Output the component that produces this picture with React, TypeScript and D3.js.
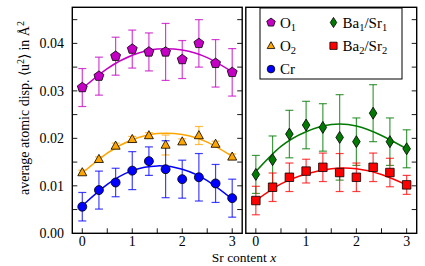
import * as d3 from "d3";

// Sr content x of the ten samples
const srContent = [0, 0.333, 0.667, 1, 1.333, 1.667, 2, 2.333, 2.667, 3];
const fitX = [0, 0.5, 1, 1.5, 2, 2.5, 3];

const o1 = [0.0307, 0.0331, 0.0373, 0.0388, 0.0382, 0.0382, 0.0366, 0.04, 0.0358, 0.0339];
const o1Err = [0.004, 0.004, 0.004, 0.004, 0.004, 0.006, 0.004, 0.005, 0.005, 0.005];
const o1Fit = [0.0305, 0.0347, 0.0375, 0.0388, 0.0386, 0.037, 0.034];

const o2 = [0.0128, 0.0156, 0.0184, 0.0198, 0.0206, 0.0186, 0.0193, 0.0206, 0.0188, 0.0161];
const o2Err = [0.0005, 0.0005, 0.0006, 0.0006, 0.0006, 0.0021, 0.0006, 0.0019, 0.0006, 0.0006];
const o2Fit = [0.0127, 0.0169, 0.0197, 0.021, 0.0208, 0.0192, 0.0162];

const cr = [0.0056, 0.0091, 0.0107, 0.0132, 0.0152, 0.0135, 0.0114, 0.0118, 0.0105, 0.0074];
const crErr = [0.003, 0.004, 0.003, 0.004, 0.003, 0.006, 0.004, 0.005, 0.004, 0.004];
const crFit = [0.0058, 0.0103, 0.0132, 0.0142, 0.0135, 0.0111, 0.0072];

const ba1 = [0.0124, 0.0155, 0.0209, 0.0228, 0.0223, 0.0202, 0.0193, 0.0253, 0.0193, 0.0178];
const ba1Err = [0.004, 0.005, 0.005, 0.005, 0.005, 0.009, 0.005, 0.006, 0.005, 0.004];
const ba1Fit = [0.013, 0.0183, 0.0214, 0.0229, 0.0226, 0.0206, 0.0178];

const ba2 = [0.0069, 0.0097, 0.0118, 0.0131, 0.0139, 0.0128, 0.0118, 0.0139, 0.0128, 0.0102];
const ba2Err = [0.003, 0.003, 0.003, 0.0025, 0.003, 0.004, 0.003, 0.003, 0.003, 0.002];
const ba2Fit = [0.0069, 0.0104, 0.0125, 0.0136, 0.0136, 0.0124, 0.0102];

const yTickLabels = ["0.00", "0.01", "0.02", "0.03", "0.04"];
const xTickLabels = ["0", "1", "2", "3"];

const FONT = "Liberation Serif";

// marker path generators, centred at 0,0
const markerPath = (kind: string, s: number) => {
  if (kind === "pentagon") {
    const r = s * 0.58;
    const pts = d3.range(5).map((k) => {
      const a = -Math.PI / 2 + (k * 2 * Math.PI) / 5;
      return [r * Math.cos(a), r * Math.sin(a)];
    });
    return "M" + pts.map((p) => p.join(",")).join("L") + "Z";
  }
  if (kind === "circle") return d3.symbol(d3.symbolCircle, Math.PI * (s / 2) ** 2)()!;
  if (kind === "triangle") {
    const h = s * 0.9;
    return `M0,${-h * 0.6}L${s / 2},${h * 0.4}L${-s / 2},${h * 0.4}Z`;
  }
  if (kind === "square") return `M${-s / 2},${-s / 2}h${s}v${s}h${-s}Z`;
  // thin diamond
  return `M0,${-s * 0.6}L${s * 0.38},0L0,${s * 0.6}L${-s * 0.38},0Z`;
};

type Series = {
  name: string[];
  vals: number[];
  err: number[];
  fit: number[];
  color: string;
  marker: string;
  size: number;
};

const leftSeries: Series[] = [
  { name: ["O", "1"], vals: o1, err: o1Err, fit: o1Fit, color: "#c400c4", marker: "pentagon", size: 9 },
  { name: ["O", "2"], vals: o2, err: o2Err, fit: o2Fit, color: "#ffa500", marker: "triangle", size: 9 },
  { name: ["Cr"], vals: cr, err: crErr, fit: crFit, color: "#0000ff", marker: "circle", size: 9 },
];
const rightSeries: Series[] = [
  { name: ["Ba", "1", "/Sr", "1"], vals: ba1, err: ba1Err, fit: ba1Fit, color: "#007a00", marker: "diamond", size: 10 },
  { name: ["Ba", "2", "/Sr", "2"], vals: ba2, err: ba2Err, fit: ba2Fit, color: "#ff0000", marker: "square", size: 8.5 },
];

const top = 7.3;
const bottom = 233.3;
const y = d3.scaleLinear().domain([0, 0.0476]).range([bottom, top]);
const yMinor = d3.range(0.005, 0.0476, 0.005);
const xMinor = d3.range(0, 3.01, 0.5);

const Panel = ({ x, series, leftAxis }: { x: d3.ScaleLinear<number, number>; series: Series[]; leftAxis: boolean }) => {
  const [x0, x1] = x.range();
  const line = d3
    .line<number>()
    .x((_d, i) => x(fitX[i]))
    .y((d) => y(d))
    .curve(d3.curveNatural);
  const sides = leftAxis ? [x0, x1] : [x1];
  return (
    <g>
      {xMinor.map((t) => (
        <line key={"xt" + t} x1={x(t)} x2={x(t)} y1={bottom} y2={bottom - 5} stroke="#000" strokeWidth={0.9} />
      ))}
      {sides.map((sx) =>
        yMinor.map((t) => (
          <line
            key={"yt" + sx + t}
            x1={sx}
            x2={sx + (sx === x0 ? 5 : -5)}
            y1={y(t)}
            y2={y(t)}
            stroke="#000"
            strokeWidth={0.9}
          />
        ))
      )}
      {xTickLabels.map((t) => (
        <text key={"xl" + t} x={x(+t)} y={246} textAnchor="middle" style={{ fontFamily: FONT, fontSize: "14px" }}>
          {t}
        </text>
      ))}
      {leftAxis &&
        yTickLabels.map((t) => (
          <text key={"yl" + t} x={64} y={y(+t) + 4.7} textAnchor="end" style={{ fontFamily: FONT, fontSize: "14px" }}>
            {t}
          </text>
        ))}
      {series.map((s) => (
        <g key={"e" + s.color} stroke={s.color} strokeOpacity={0.75} strokeWidth={1.2}>
          {s.vals.map((v, i) => {
            const cx = x(srContent[i]);
            const ya = y(v + s.err[i]);
            const yb = y(v - s.err[i]);
            return (
              <g key={i}>
                <line x1={cx} x2={cx} y1={ya} y2={yb} />
                <line x1={cx - 4} x2={cx + 4} y1={ya} y2={ya} />
                <line x1={cx - 4} x2={cx + 4} y1={yb} y2={yb} />
              </g>
            );
          })}
        </g>
      ))}
      {series.map((s) => (
        <path key={"f" + s.color} d={line(s.fit)!} fill="none" stroke={s.color} strokeWidth={1.5} />
      ))}
      {series.map((s) => (
        <g key={"m" + s.color} fill={s.color} stroke="#000" strokeWidth={0.8}>
          {s.vals.map((v, i) => (
            <path key={i} d={markerPath(s.marker, s.size)} transform={`translate(${x(srContent[i])},${y(v)})`} />
          ))}
        </g>
      ))}
      <rect x={x0} y={top} width={x1 - x0} height={bottom - top} fill="none" stroke="#000" strokeWidth={1.4} />
    </g>
  );
};

const LegendLabel = ({ parts, x, y: ty }: { parts: string[]; x: number; y: number }) => (
  <text x={x} y={ty} style={{ fontFamily: FONT, fontSize: "15px" }}>
    {parts.map((p, k) => {
      const sub = k % 2 === 1;
      return (
        <tspan key={k} dy={sub ? 3.5 : k > 0 ? -3.5 : 0} style={{ fontSize: sub ? "10.5px" : "15px" }}>
          {p}
        </tspan>
      );
    })}
  </text>
);

const App = () => {
  const xLeft = d3.scaleLinear().domain([-0.2, 3.2]).range([72.3, 242.2]);
  const xRight = d3.scaleLinear().domain([-0.2, 3.2]).range([245.8, 416.7]);
  const entries = [
    ...leftSeries.map((s, i) => ({ s, mx: 271, ry: 22.5 + i * 23.3 })),
    ...rightSeries.map((s, i) => ({ s, mx: 333.5, ry: 22.5 + i * 23.3 })),
  ];

  return (
    <svg width={425} height={266} style={{ position: "absolute", left: 0, top: 0, background: "#fff" }}>
      <Panel x={xLeft} series={leftSeries} leftAxis={true} />
      <Panel x={xRight} series={rightSeries} leftAxis={false} />

      <g>
        <rect x={260} y={8} width={142} height={71} fill="#fff" stroke="#000" strokeWidth={1} />
        {entries.map(({ s, mx, ry }) => (
          <g key={"lg" + s.color}>
            <path
              d={markerPath(s.marker, s.size * 0.85)}
              transform={`translate(${mx},${ry})`}
              fill={s.color}
              stroke="#000"
              strokeWidth={0.8}
            />
            <LegendLabel parts={s.name} x={mx + 9} y={ry + 5} />
          </g>
        ))}
      </g>

      <text
        transform="translate(29,108) rotate(-90)"
        textAnchor="middle"
        style={{ fontFamily: FONT, fontSize: "14px" }}
      >
        <tspan>average atomic disp. {"\u27E8"}u</tspan>
        <tspan dy={-5} style={{ fontSize: "10px" }}>
          2
        </tspan>
        <tspan dy={5}>{"\u27E9"} in {"\u00C5"}</tspan>
        <tspan dy={-5} style={{ fontSize: "10px" }}>
          2
        </tspan>
      </text>

      <text x={244} y={261.5} textAnchor="middle" style={{ fontFamily: FONT, fontSize: "13.5px" }}>
        <tspan>Sr content </tspan>
        <tspan style={{ fontStyle: "italic" }}>x</tspan>
      </text>
    </svg>
  );
};

export default App;
